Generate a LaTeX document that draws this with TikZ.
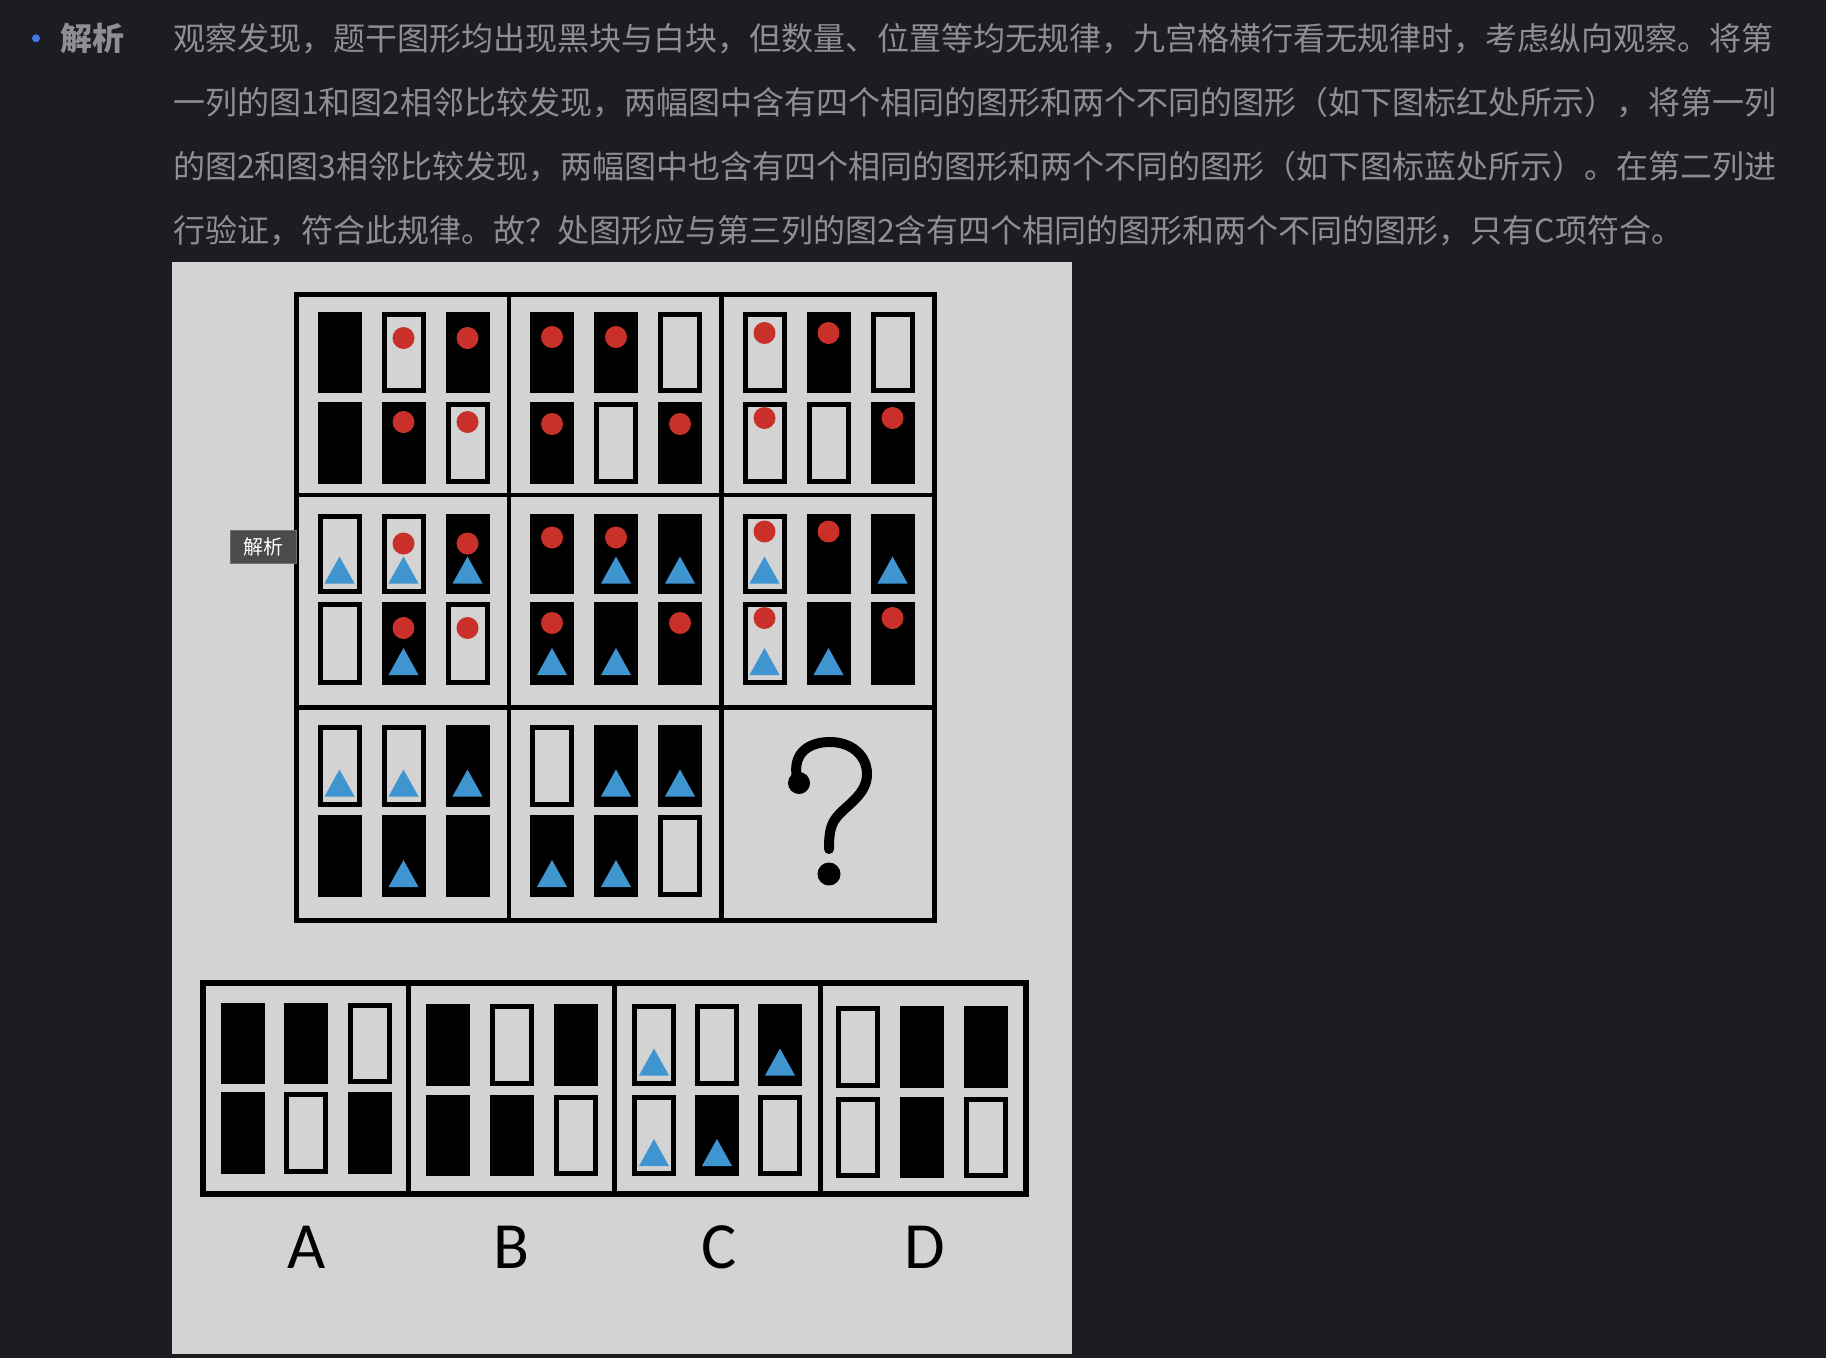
\documentclass[tikz,border=0pt]{standalone}
\usepackage{fontspec}
\newfontfamily\cjk{Noto Sans CJK SC}
\newfontfamily\optfont{Carlito}
\definecolor{pagebg}{HTML}{1C1D21}
\definecolor{panelbg}{HTML}{D3D3D3}
\definecolor{txtgray}{HTML}{8E8F93}
\definecolor{bulletblue}{HTML}{4279EC}
\definecolor{dotred}{HTML}{C9302A}
\definecolor{triblue}{HTML}{3E95D0}
\definecolor{tipbg}{HTML}{4B4B4B}
\definecolor{tipline}{HTML}{6E6E6E}
\XeTeXlinebreaklocale "zh"
\XeTeXlinebreakskip=0pt plus 4pt
\def\dotoff{20}
% bar primitives: x (left), y (top), h (height)
\newcommand\bbar[3]{\fill[black] (#1,#2) rectangle ++(44,#3);}
\newcommand\wbar[3]{\draw[line width=5pt] (#1+2.5,#2+2.5) rectangle ++(39,#3-5);}
\newcommand\rdot[3]{\fill[dotred] (#1+22,#2+\dotoff) circle[radius=11pt];}
\newcommand\btri[3]{\fill[triblue] (#1+7,#2+#3-10) -- (#1+37,#2+#3-10) -- (#1+22,#2+#3-37) -- cycle;}
\newcommand\pb[6]{%
  \if#4B\bbar{#1}{#2}{#3}\else\wbar{#1}{#2}{#3}\fi
  \if#51\rdot{#1}{#2}{#3}\fi
  \if#61\btri{#1}{#2}{#3}\fi}
\def\pbsx#1#2#3#4#5#6{\pb{#1}{#2}{#3}{#4}{#5}{#6}}
\newcommand\pbs[4]{\pbsx{#1}{#2}{#3}#4}
% one row of three bars: y, h, x1, x2, x3, spec1, spec2, spec3
\newcommand\prow[8]{\pbs{#3}{#1}{#2}{#6}\pbs{#4}{#1}{#2}{#7}\pbs{#5}{#1}{#2}{#8}}
\begin{document}
\begin{tikzpicture}[x=1pt,y=-1pt,
  bodytxt/.style={anchor=west,inner sep=0pt,text=txtgray,font=\cjk\fontsize{32pt}{36pt}\selectfont},
  frameline/.style={line width=5pt,line cap=rect},
  divline/.style={line width=4.5pt},
  qstroke/.style={line width=10pt,line cap=round},
  optlabel/.style={anchor=base,inner sep=0pt,font=\optfont\fontsize{66pt}{70pt}\selectfont}]
\useasboundingbox (0,0) rectangle (1826,1358);
\fill[pagebg] (0,0) rectangle (1826,1358);
% heading and explanation text
\fill[bulletblue] (36,38.3) circle[radius=4pt];
\node[bodytxt,font=\cjk\bfseries\fontsize{32pt}{36pt}\selectfont] (head) at (60,38.4) {解析};
\node[bodytxt] (l1) at (173,38.4) {\makebox[1598pt][s]{观察发现，题干图形均出现黑块与白块，但数量、位置等均无规律，九宫格横行看无规律时，考虑纵向观察。将第}};
\node[bodytxt] (l2) at (173,102.5) {\makebox[1598pt][s]{一列的图1和图2相邻比较发现，两幅图中含有四个相同的图形和两个不同的图形（如下图标红处所示），将第一列}};
\node[bodytxt] (l3) at (173,166.5) {\makebox[1605pt][s]{的图2和图3相邻比较发现，两幅图中也含有四个相同的图形和两个不同的图形（如下图标蓝处所示）。在第二列进}};
\node[bodytxt] (l4) at (173,230.6) {行验证，符合此规律。故？处图形应与第三列的图2含有四个相同的图形和两个不同的图形，只有C项符合。};
% image panel
\fill[panelbg] (172,262) rectangle (1072,1354);
% 3x3 grid frame
\draw[frameline] (296.5,294.2) rectangle (934.5,920);
\draw[divline] (509,294.2) -- (509,920);
\draw[divline] (721.5,294.2) -- (721.5,920);
\draw[divline] (296.5,495) -- (934.5,495);
\draw[divline] (296.5,707.7) -- (934.5,707.7);
% row 1
\def\dotoff{26}\prow{312}{81}{317.5}{381.5}{445.5}{B00}{W10}{B10}
\def\dotoff{20}\prow{402}{82}{317.5}{381.5}{445.5}{B00}{B10}{W10}
\def\dotoff{25}\prow{312}{81}{530}{594}{658}{B10}{B10}{W00}
\def\dotoff{22}\prow{402}{82}{530}{594}{658}{B10}{W00}{B10}
\def\dotoff{21}\prow{312}{81}{742.5}{806.5}{870.5}{W10}{B10}{W00}
\def\dotoff{16}\prow{402}{82}{742.5}{806.5}{870.5}{W10}{W00}{B10}
% row 2
\def\dotoff{30}\prow{513.5}{80}{317.5}{381.5}{445.5}{W01}{W11}{B11}
\def\dotoff{26}\prow{602}{83}{317.5}{381.5}{445.5}{W00}{B11}{W10}
\def\dotoff{24}\prow{513.5}{80}{530}{594}{658}{B10}{B11}{B01}
\def\dotoff{21}\prow{602}{83}{530}{594}{658}{B11}{B01}{B10}
\def\dotoff{18}\prow{513.5}{80}{742.5}{806.5}{870.5}{W11}{B10}{B01}
\def\dotoff{16}\prow{602}{83}{742.5}{806.5}{870.5}{W11}{B01}{B10}
% row 3
\prow{725}{81.5}{317.5}{381.5}{445.5}{W01}{W01}{B01}
\prow{815}{82}{317.5}{381.5}{445.5}{B00}{B01}{B00}
\prow{725}{81.5}{530}{594}{658}{W00}{B01}{B01}
\prow{815}{82}{530}{594}{658}{B01}{B01}{W00}
% question mark
\fill (799,783) circle[radius=11pt];
\draw[qstroke] (797,778) .. controls (792,752) and (810,742) .. (830,742)
  .. controls (852,742) and (867,756) .. (867,774)
  .. controls (867,795) and (846,805) .. (836,818)
  .. controls (830,826) and (829,835) .. (829,849);
\fill (829,874) circle[radius=11.5pt];
% answer options
\draw[line width=5.5pt,line cap=rect] (203,983) rectangle (1026,1194);
\draw[line width=5pt] (408.7,983) -- (408.7,1194);
\draw[line width=5pt] (614,983) -- (614,1194);
\draw[line width=5pt] (820.8,983) -- (820.8,1194);
\prow{1002.5}{81}{221}{284}{348}{B00}{B00}{W00}
\prow{1092}{82}{221}{284}{348}{B00}{W00}{B00}
\prow{1004}{81.5}{426}{490}{554}{B00}{W00}{B00}
\prow{1095}{81}{426}{490}{554}{B00}{B00}{W00}
\prow{1004}{81.5}{632}{695}{758}{W01}{W00}{B01}
\prow{1095}{81}{632}{695}{758}{W01}{B01}{W00}
\prow{1006}{81.5}{836}{900}{964}{W00}{B00}{B00}
\prow{1097}{81}{836}{900}{964}{W00}{B00}{W00}
\node[optlabel] (optA) at (306.8,1268.3) {A};
\node[optlabel] (optB) at (511,1268.3) {B};
\node[optlabel] (optC) at (719.4,1268.3) {C};
\node[optlabel] (optD) at (925,1268.3) {D};
% tooltip
\node[draw=tipline,fill=tipbg,line width=1pt,minimum width=66pt,minimum height=33pt,inner sep=0pt,
  text=white,font=\cjk\fontsize{20pt}{22pt}\selectfont] (tip) at (263.3,546.5) {解析};
\end{tikzpicture}
\end{document}
